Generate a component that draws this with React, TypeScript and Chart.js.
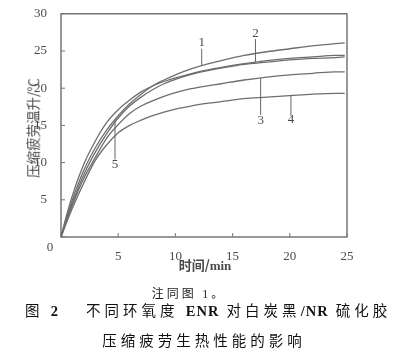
import React, { useEffect, useRef } from "react";
import { Chart, registerables } from "chart.js";

Chart.register(...registerables);

// time (min)
const times = [0, 0.5, 1, 2, 3, 4, 5, 6, 7, 8, 9, 10, 11, 12, 14, 16, 18, 20, 22, 24, 24.8];
// temperature rise (°C) for samples 1-5
const curve1 = [0, 2.6, 5.0, 9.0, 12.0, 14.4, 16.3, 17.9, 19.2, 20.3, 21.1, 21.8, 22.4, 22.9, 23.7, 24.4, 24.9, 25.3, 25.7, 26.0, 26.1];
const curve2 = [0, 3.0, 5.6, 9.8, 12.9, 15.4, 17.1, 18.4, 19.5, 20.3, 20.9, 21.4, 21.8, 22.2, 22.8, 23.3, 23.7, 24.0, 24.2, 24.4, 24.4];
const curve3 = [0, 2.2, 4.3, 7.9, 10.7, 13.3, 15.1, 16.6, 17.6, 18.3, 18.9, 19.4, 19.8, 20.1, 20.6, 21.1, 21.5, 21.8, 22.0, 22.2, 22.2];
const curve4 = [0, 2.0, 3.9, 7.3, 10.3, 12.4, 14.0, 15.0, 15.7, 16.3, 16.8, 17.2, 17.5, 17.8, 18.2, 18.6, 18.8, 19.0, 19.2, 19.3, 19.3];
const curve5 = [0, 2.4, 4.6, 8.4, 11.4, 13.9, 16.0, 17.6, 18.8, 19.8, 20.6, 21.2, 21.7, 22.1, 22.7, 23.2, 23.5, 23.8, 24.0, 24.1, 24.2];

// curve labels with leader lines (data units)
const labelTexts = ["1", "2", "3", "4", "5"];
const labelTimes = [12.3, 17.0, 17.45, 20.1, 4.72];
const leaderFrom = [23.0, 23.5, 21.3, 19.0, 15.6];
const leaderTo = [25.3, 26.6, 16.4, 16.3, 10.4];
const labelValues = [26.1, 27.3, 15.7, 15.8, 9.7];

const xTicks = [0, 5, 10, 15, 20, 25];
const yTicks = [0, 5, 10, 15, 20, 25, 30];

const series = [curve1, curve2, curve3, curve4, curve5];

const INK = "#4a4a4a";
const LINE = "#6e6e6e";
const SERIF = "'Liberation Serif', 'DejaVu Serif', serif";

const decorPlugin = {
  id: "decor",
  afterDatasetsDraw(chart: any) {
    const { ctx, chartArea, scales } = chart;
    const xs = scales.x;
    const ys = scales.y;
    ctx.save();
    // frame
    ctx.strokeStyle = "#555";
    ctx.lineWidth = 1.2;
    ctx.strokeRect(chartArea.left, chartArea.top, chartArea.right - chartArea.left, chartArea.bottom - chartArea.top);
    // inward ticks
    ctx.lineWidth = 1;
    ctx.strokeStyle = "#777";
    xTicks.forEach((t) => {
      const px = xs.getPixelForValue(t);
      ctx.beginPath();
      ctx.moveTo(px, chartArea.bottom);
      ctx.lineTo(px, chartArea.bottom - 4);
      ctx.stroke();
    });
    yTicks.forEach((v) => {
      const py = ys.getPixelForValue(v);
      ctx.beginPath();
      ctx.moveTo(chartArea.left, py);
      ctx.lineTo(chartArea.left + 4, py);
      ctx.stroke();
    });
    // leaders and labels
    ctx.strokeStyle = "#666";
    ctx.fillStyle = INK;
    ctx.font = `13px ${SERIF}`;
    ctx.textAlign = "center";
    ctx.textBaseline = "middle";
    labelTexts.forEach((txt, i) => {
      const px = xs.getPixelForValue(labelTimes[i]);
      ctx.beginPath();
      ctx.moveTo(px, ys.getPixelForValue(leaderFrom[i]));
      ctx.lineTo(px, ys.getPixelForValue(leaderTo[i]));
      ctx.stroke();
      ctx.fillText(txt, px, ys.getPixelForValue(labelValues[i]));
    });
    // shared origin label
    ctx.fillText("0", chartArea.left - 11, chartArea.bottom + 11);
    ctx.restore();
  },
};

export default function App() {
  const ref = useRef<HTMLCanvasElement | null>(null);

  useEffect(() => {
    if (!ref.current) return;
    const chart = new Chart(ref.current, {
      type: "line",
      data: {
        datasets: series.map((s, i) => ({
          label: String(i + 1),
          data: times.map((t, k) => ({ x: t, y: s[k] })),
          borderColor: LINE,
          borderWidth: 1.3,
          pointRadius: 0,
          fill: false,
          cubicInterpolationMode: "monotone" as const,
        })),
      },
      options: {
        animation: false,
        responsive: false,
        events: [],
        layout: { padding: { left: 0, right: 50, top: 7, bottom: 0 } },
        plugins: { legend: { display: false }, tooltip: { enabled: false } },
        scales: {
          x: {
            type: "linear",
            min: 0,
            max: 25,
            grid: { display: false },
            border: { display: false },
            ticks: {
              stepSize: 5,
              padding: 4,
              color: INK,
              font: { family: SERIF, size: 13 },
              callback: (v: any) => (v === 0 ? "" : String(v)),
            },
            afterFit: (s: any) => {
              s.height = 43;
            },
          },
          y: {
            type: "linear",
            min: 0,
            max: 30,
            grid: { display: false },
            border: { display: false },
            ticks: {
              stepSize: 5,
              padding: 6,
              color: INK,
              font: { family: SERIF, size: 13 },
              callback: (v: any) => (v === 0 ? "" : String(v)),
            },
            afterFit: (s: any) => {
              s.width = 61;
            },
          },
        },
      },
      plugins: [decorPlugin],
    });
    return () => chart.destroy();
  }, []);

  const cjk = "'Noto Sans CJK SC', sans-serif";
  return (
    <div style={{ position: "fixed", left: 0, top: 0, width: 397, height: 362, background: "#fff", overflow: "hidden" }}>
      <canvas ref={ref} width={397} height={280} style={{ position: "absolute", left: 0, top: 0 }} />
      <div
        style={{
          position: "absolute",
          left: 33,
          top: 128,
          transform: "translate(-50%, -50%) rotate(-90deg)",
          whiteSpace: "nowrap",
          fontFamily: cjk,
          fontSize: 13.5,
          color: INK,
          lineHeight: 1,
        }}
      >
        压缩疲劳温升/℃
      </div>
      <div
        style={{
          position: "absolute",
          left: 205,
          top: 265,
          transform: "translate(-50%, -50%)",
          whiteSpace: "nowrap",
          fontFamily: cjk,
          fontWeight: 700,
          fontSize: 13,
          color: INK,
          lineHeight: 1,
        }}
      >
        时间/<span style={{ fontFamily: SERIF }}>min</span>
      </div>
      <div
        style={{
          position: "absolute",
          left: 189,
          top: 293,
          transform: "translate(-50%, -50%)",
          whiteSpace: "nowrap",
          fontFamily: cjk,
          fontSize: 12,
          letterSpacing: 3,
          color: "#222",
          lineHeight: 1,
        }}
      >
        注同图 <span style={{ fontFamily: SERIF }}>1</span>。
      </div>
      <div
        style={{
          position: "absolute",
          left: 25,
          top: 311,
          transform: "translateY(-50%)",
          whiteSpace: "nowrap",
          fontFamily: cjk,
          fontSize: 14.5,
          letterSpacing: 4,
          color: "#111",
          lineHeight: 1,
        }}
      >
        图 <b style={{ fontFamily: SERIF }}>2</b>
        <span style={{ marginLeft: 24 }}>不同环氧度 </span>
        <b style={{ fontFamily: SERIF, letterSpacing: 1 }}>ENR</b> 对白炭黑
        <b style={{ fontFamily: SERIF, letterSpacing: 1 }}>/NR</b> 硫化胶
      </div>
      <div
        style={{
          position: "absolute",
          left: 204,
          top: 340,
          transform: "translate(-50%, -50%)",
          whiteSpace: "nowrap",
          fontFamily: cjk,
          fontSize: 14.5,
          letterSpacing: 4,
          color: "#111",
          lineHeight: 1,
        }}
      >
        压缩疲劳生热性能的影响
      </div>
    </div>
  );
}
